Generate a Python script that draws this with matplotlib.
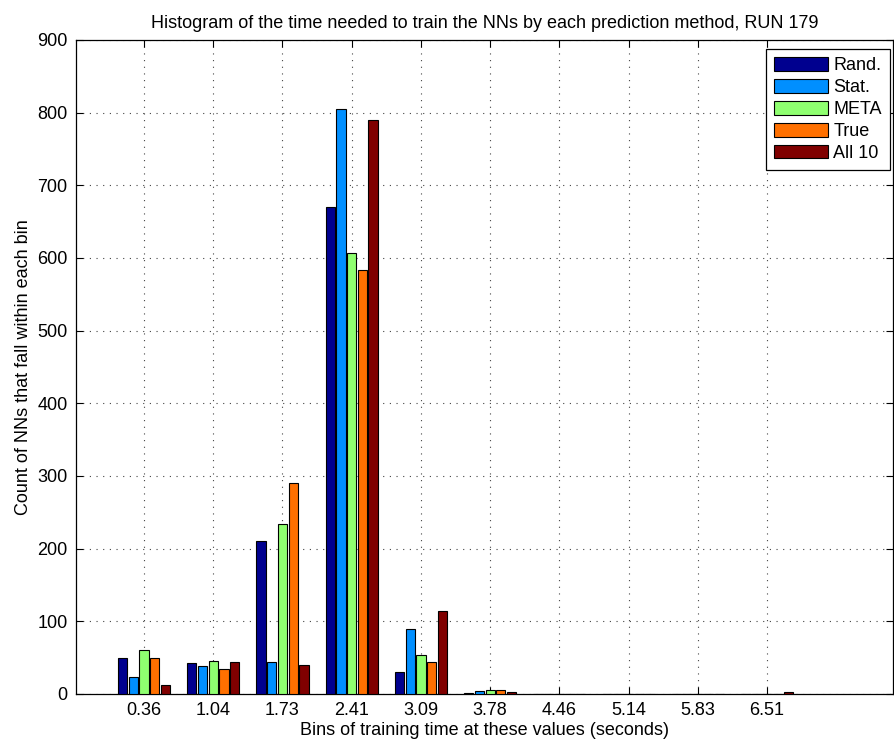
import matplotlib
matplotlib.use("Agg")
import matplotlib.pyplot as plt
import numpy as np

plt.rcParams['font.family'] = ['Liberation Sans', 'DejaVu Sans']

bin_labels = ["0.36", "1.04", "1.73", "2.41", "3.09", "3.78", "4.46", "5.14", "5.83", "6.51"]
series_names = ["Rand.", "Stat.", "META", "True", "All 10"]

rand_counts = [50, 42, 210, 670, 30, 2, 0, 0, 0, 0]
stat_counts = [23, 38, 44, 805, 90, 4, 0, 0, 0, 0]
meta_counts = [60, 45, 234, 607, 54, 5, 0, 0, 0, 0]
true_counts = [49, 34, 290, 583, 44, 5, 0, 0, 0, 0]
all10_counts = [12, 44, 40, 790, 114, 3, 0, 0, 0, 3]

colors = ["#00008F", "#008FFF", "#8FFF70", "#FF7000", "#800000"]

fig = plt.figure(figsize=(8.94, 7.42), dpi=100)
ax = fig.add_axes([76 / 894, 48 / 742, (893 - 76) / 894, (694 - 40) / 742])

x = np.arange(len(bin_labels))
step = 0.1546
width = 0.134
all_series = [rand_counts, stat_counts, meta_counts, true_counts, all10_counts]
for k, (vals, name, c) in enumerate(zip(all_series, series_names, colors)):
    ax.bar(x + (k - 2) * step, vals, width=width, color=c, edgecolor="black",
           linewidth=0.8, label=name, zorder=3)

ax.set_xlim(-0.983, 10.82)
ax.set_ylim(0, 900)
ax.set_xticks(x)
ax.set_xticklabels(bin_labels)
ax.set_yticks(np.arange(0, 901, 100))

ax.grid(True, linestyle=(0, (1, 5)), color="#444444", linewidth=0.8, zorder=0)
ax.tick_params(direction="in", length=5, width=0.8, labelsize=13, top=True, right=True, pad=6)
for s in ax.spines.values():
    s.set_linewidth(0.9)

ax.set_title("Histogram of the time needed to train the NNs by each prediction method, RUN 179",
             fontsize=13, pad=9)
ax.set_xlabel("Bins of training time at these values (seconds)", fontsize=13, labelpad=2)
ax.set_ylabel("Count of NNs that fall within each bin", fontsize=13, labelpad=4)

leg = ax.legend(loc="upper right", fontsize=13, fancybox=False, framealpha=1,
                edgecolor="black", handlelength=3.0, handleheight=0.8,
                handletextpad=0.3, labelspacing=0.26, borderpad=0.45,
                borderaxespad=0, bbox_to_anchor=(1 - 3 / 817, 1 - 9 / 654))
leg.get_frame().set_linewidth(0.9)

fig.savefig("out.png", dpi=100)
